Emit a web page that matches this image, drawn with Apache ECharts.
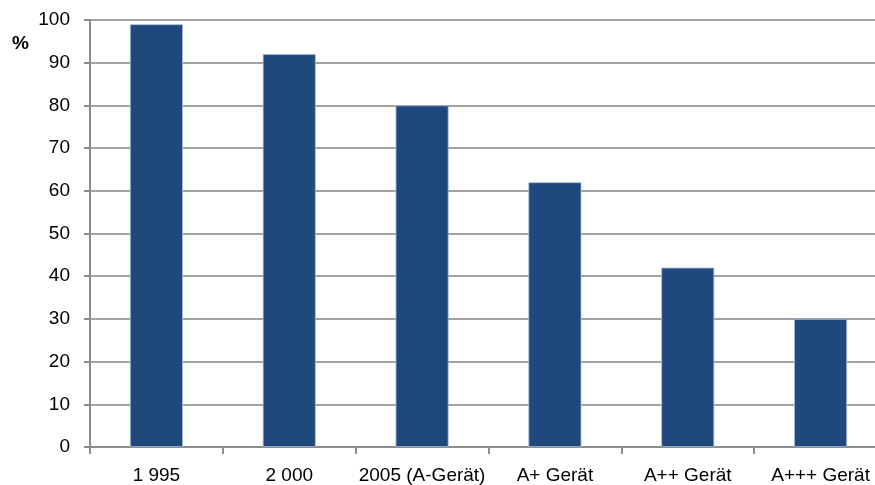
<!DOCTYPE html>
<html>
<head>
<meta charset="utf-8">
<script src="https://cdn.jsdelivr.net/npm/echarts@6/dist/echarts.min.js"></script>
<style>
  html, body { margin: 0; padding: 0; background: #ffffff; overflow: hidden; }
  #chart { width: 900px; height: 485px; }
</style>
</head>
<body>
<div id="chart"></div>
<script>
// Relative energy consumption by year / efficiency class
const categories = ['1 995', '2 000', '2005 (A-Gerät)', 'A+ Gerät', 'A++ Gerät', 'A+++ Gerät'];
const values = [99, 92, 80, 62, 42, 30];
const yTicks = { min: 0, max: 100, interval: 10 };

const chart = echarts.init(document.getElementById('chart'));
const font = '"Liberation Sans", Arial, sans-serif';

chart.setOption({
  animation: false,
  // plot area runs slightly past the visible right edge of the page
  grid: { left: 90, top: 20, bottom: 37, right: 13, containLabel: false },
  graphic: [{
    type: 'text',
    left: 12,
    top: 34,
    style: { text: '%', fontFamily: font, fontSize: 19, fontWeight: 'bold', fill: '#000' }
  }],
  xAxis: {
    type: 'category',
    data: categories,
    axisLine: { show: true, lineStyle: { color: '#8c8c8c', width: 2 } },
    axisTick: { show: true, interval: 0, length: 7, lineStyle: { color: '#8c8c8c', width: 2 } },
    axisLabel: { interval: 0, color: '#000', fontFamily: font, fontSize: 19, margin: 19 },
    splitLine: { show: false }
  },
  yAxis: {
    type: 'value',
    min: yTicks.min,
    max: yTicks.max,
    interval: yTicks.interval,
    axisLine: { show: true, lineStyle: { color: '#8c8c8c', width: 2 } },
    axisTick: { show: true, length: 6, lineStyle: { color: '#8c8c8c', width: 2 } },
    axisLabel: { color: '#000', fontFamily: font, fontSize: 19, margin: 20 },
    splitLine: { show: true, lineStyle: { color: '#a3a3a3', width: 2 } }
  },
  series: [{
    type: 'bar',
    data: values,
    barWidth: 53,
    itemStyle: { color: '#1f497c', borderColor: '#a9bcd4', borderWidth: 0.8 }
  }]
});
</script>
</body>
</html>
